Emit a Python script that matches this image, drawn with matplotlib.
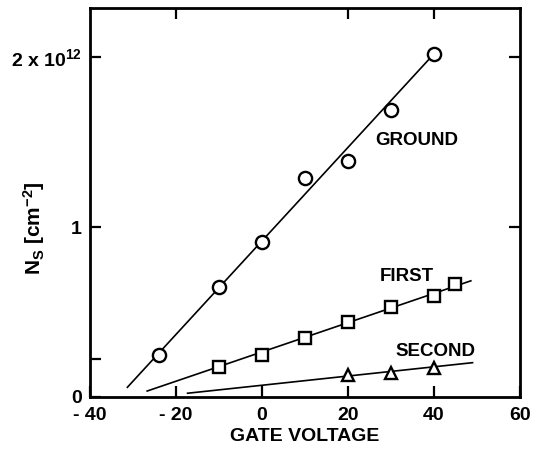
import matplotlib
matplotlib.use("Agg")
import matplotlib.pyplot as plt

plt.rcParams["font.family"] = ["Liberation Sans", "DejaVu Sans"]
plt.rcParams["font.weight"] = "bold"
plt.rcParams["axes.labelweight"] = "bold"
plt.rcParams["mathtext.default"] = "regular"

# measured points (gate voltage, Ns in 1e12 cm^-2)
ground_v = [-24, -10, 0, 10, 20, 30, 40]
ground_n = [0.25, 0.645, 0.91, 1.29, 1.39, 1.69, 2.02]
first_v = [-10, 0, 10, 20, 30, 40, 45]
first_n = [0.178, 0.25, 0.35, 0.443, 0.528, 0.597, 0.667]
second_v = [20, 30, 40]
second_n = [0.13, 0.142, 0.17]

# straight fit lines drawn through each set
ground_fit_v = [-31.3, 40]
ground_fit_n = [0.057, 2.02]
first_fit_v = [-26.7, 48.6]
first_fit_n = [0.035, 0.684]
second_fit_v = [-17.3, 49]
second_fit_n = [0.022, 0.202]

xticks = [-40, -20, 0, 20, 40, 60]
xtick_labels = ["- 40", "- 20", "0", "20", "40", "60"]
yticks = [0, 1, 2]
ytick_labels = ["0", "1", r"2 x 10$^{12}$"]

fig = plt.figure(figsize=(5.34, 4.54), dpi=100)
ax = fig.add_axes([0.1685, 0.1256, 0.805, 0.8565])

line_kw = dict(color="black", lw=1.2, zorder=2)
ax.plot(ground_fit_v, ground_fit_n, **line_kw)
ax.plot(first_fit_v, first_fit_n, **line_kw)
ax.plot(second_fit_v, second_fit_n, **line_kw)

mk = dict(ls="none", mfc="white", mec="black", mew=1.7, zorder=3)
ax.plot(ground_v, ground_n, marker="o", ms=9.5, **mk)
ax.plot(first_v, first_n, marker="s", ms=8.5, **mk)
ax.plot(second_v, second_n, marker="^", ms=9, **mk)

ax.text(26.4, 1.51, "GROUND", fontsize=13.5, va="center")
ax.text(27.5, 0.71, "FIRST", fontsize=13.5, va="center")
ax.text(31.0, 0.265, "SECOND", fontsize=13.5, va="center")

ax.set_xlim(-40, 59.5)
ax.set_ylim(0, 2.29)

ax.set_xticks(xticks)
ax.set_xticklabels(xtick_labels)
ax.set_yticks(yticks)
ax.set_yticklabels(ytick_labels)
ax.set_yticks([0.225], minor=True)
ax.tick_params(axis="both", which="both", direction="in", length=8, width=1.6,
               labelsize=14)
ax.tick_params(axis="x", pad=7)
ax.tick_params(axis="y", pad=6)

for sp in ax.spines.values():
    sp.set_linewidth(2.0)

top = ax.secondary_xaxis("top")
top.set_xticks([-20, 20, 40])
top.set_xticklabels([])
top.tick_params(direction="in", length=8, width=1.6)

right = ax.secondary_yaxis("right")
right.set_yticks([1, 2])
right.set_yticklabels([])
right.tick_params(direction="in", length=8, width=1.6)

ax.set_xlabel("GATE VOLTAGE", fontsize=14, labelpad=3)
ax.set_ylabel(r"N$_S$ [cm$^{-2}$]", fontsize=15)
ax.yaxis.set_label_coords(-0.1, 0.434)

fig.savefig("out.png", dpi=100)
